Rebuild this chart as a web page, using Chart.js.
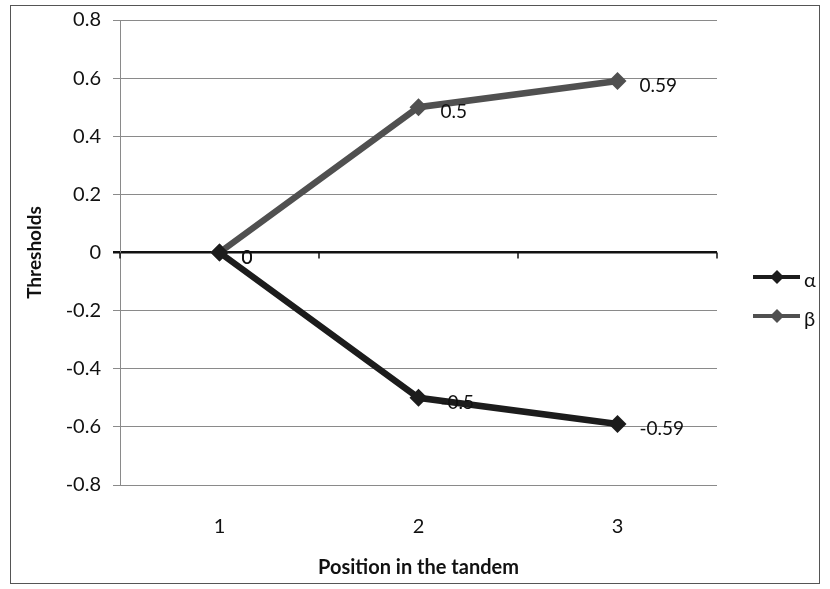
<!DOCTYPE html>
<html>
<head>
<meta charset="utf-8">
<script src="https://cdn.jsdelivr.net/npm/chart.js@4"></script>
<style>
  html, body { margin: 0; padding: 0; background: #fff; }
  canvas { display: block; }
</style>
</head>
<body>
<canvas id="grafico" width="830" height="589"></canvas>
<script>
// data
const posiciones = ['1', '2', '3'];
const serieAlfa = [0, -0.5, -0.59];
const serieBeta = [0, 0.5, 0.59];
const nombresSeries = ['α', 'β'];
const coloresSeries = ['#1c1c1c', '#505050'];

const FUENTE = 'Lato, "Open Sans", sans-serif';

// frame, zero-line ticks, value labels and legend
const extras = {
    id: 'extras',
    afterDraw(chart) {
        const ctx = chart.ctx;
        const x = chart.scales.x;
        const y = chart.scales.y;
        ctx.save();

        // outer frame
        ctx.strokeStyle = '#555';
        ctx.lineWidth = 1;
        ctx.strokeRect(10.5, 5.5, 809, 578);

        // small ticks on the zero line at category boundaries
        const y0 = y.getPixelForValue(0);
        ctx.strokeStyle = '#111';
        ctx.lineWidth = 1.5;
        for (let i = 0; i <= posiciones.length; i++) {
            const px = x.getPixelForValue(i - 0.5);
            ctx.beginPath();
            ctx.moveTo(px, y0);
            ctx.lineTo(px, y0 + 6);
            ctx.stroke();
        }

        // value labels to the right of each point
        ctx.fillStyle = '#111';
        ctx.font = '19px ' + FUENTE;
        ctx.textBaseline = 'middle';
        ctx.textAlign = 'left';
        chart.data.datasets.forEach((ds, di) => {
            const meta = chart.getDatasetMeta(di);
            meta.data.forEach((pt, i) => {
                ctx.fillText(String(ds.data[i]), pt.x + 22, pt.y + 5);
            });
        });

        // legend
        const filas = [277, 316];
        chart.data.datasets.forEach((ds, di) => {
            const ly = filas[di];
            ctx.strokeStyle = ds.borderColor;
            ctx.lineWidth = 4;
            ctx.beginPath();
            ctx.moveTo(753, ly);
            ctx.lineTo(800, ly);
            ctx.stroke();
            ctx.fillStyle = ds.borderColor;
            ctx.beginPath();
            ctx.moveTo(777, ly - 7);
            ctx.lineTo(784, ly);
            ctx.lineTo(777, ly + 7);
            ctx.lineTo(770, ly);
            ctx.closePath();
            ctx.fill();
            ctx.fillStyle = '#111';
            ctx.font = '20px ' + FUENTE;
            ctx.fillText(ds.label, 804, ly + 4);
        });

        ctx.restore();
    }
};

const grafico = document.getElementById('grafico').getContext('2d');
new Chart(grafico, {
    type: 'line',
    data: {
        labels: posiciones,
        datasets: [
            {
                label: nombresSeries[0],
                data: serieAlfa,
                borderColor: coloresSeries[0],
                backgroundColor: coloresSeries[0],
                borderWidth: 6.5,
                pointStyle: 'rectRot',
                pointRadius: 9,
                pointBorderWidth: 0
            },
            {
                label: nombresSeries[1],
                data: serieBeta,
                borderColor: coloresSeries[1],
                backgroundColor: coloresSeries[1],
                borderWidth: 6.5,
                pointStyle: 'rectRot',
                pointRadius: 9,
                pointBorderWidth: 0
            }
        ]
    },
    options: {
        responsive: false,
        animation: false,
        layout: { padding: { left: 0, top: 20, right: 113, bottom: 0 } },
        plugins: {
            legend: { display: false },
            tooltip: { enabled: false }
        },
        scales: {
            x: {
                offset: true,
                grid: { display: false },
                border: { display: false },
                ticks: { color: '#111', font: { family: FUENTE, size: 20 }, padding: 22 },
                title: {
                    display: true,
                    text: 'Position in the tandem',
                    color: '#111',
                    font: { family: FUENTE, size: 20, weight: 'bold' },
                    padding: { bottom: 9 }
                },
                afterFit(scale) { scale.height = 104; }
            },
            y: {
                min: -0.8,
                max: 0.8,
                ticks: {
                    stepSize: 0.2,
                    color: '#111',
                    font: { family: FUENTE, size: 20 },
                    padding: 12,
                    callback: v => String(Math.round(v * 10) / 10)
                },
                grid: {
                    color: c => c.tick && Math.abs(c.tick.value) < 1e-9 ? '#111' : '#8a8a8a',
                    lineWidth: c => c.tick && Math.abs(c.tick.value) < 1e-9 ? 2.5 : 1,
                    tickLength: 7
                },
                border: { display: true, color: '#8a8a8a', width: 1 },
                title: {
                    display: true,
                    text: 'Thresholds',
                    color: '#111',
                    font: { family: FUENTE, size: 19, weight: 'bold' },
                    padding: { top: 23 }
                },
                afterFit(scale) {
                    scale.width = 120;
                    scale.paddingTop = 0;
                    scale.paddingBottom = 0;
                }
            }
        }
    },
    plugins: [extras]
});
</script>
</body>
</html>
